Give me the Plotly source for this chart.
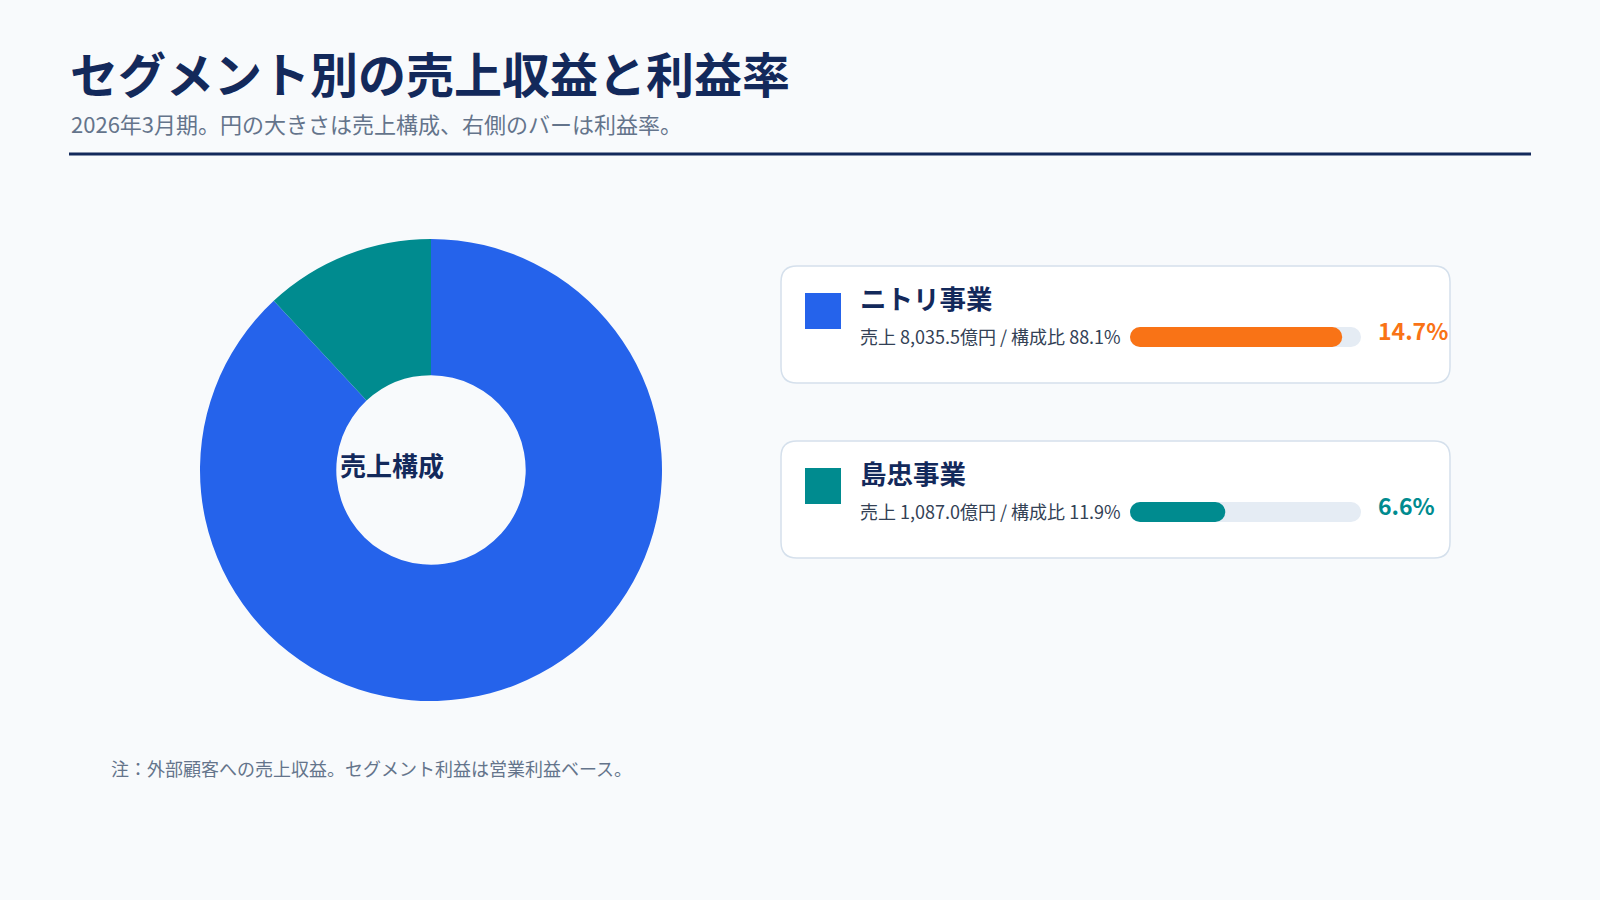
import plotly.graph_objects as go

# data
segments = ["ニトリ事業", "島忠事業"]
sales = [8035.5, 1087.0]          # 億円
shares = [88.1, 11.9]             # 構成比 %
margins = [14.7, 6.6]             # 利益率 %
margin_max = 16

seg_colors = ["#2563eb", "#008b8f"]
bar_colors = ["#f97316", "#008b8f"]

W, H = 1600, 900
FONT = "Noto Sans CJK JP, Noto Sans, sans-serif"
NAVY = "#13295b"


def px(x):
    return x / W


def py(y):
    return 1 - y / H


def rounded_rect(x0, y0, x1, y1, r):
    # path in paper coords built from pixel corners
    pts = [
        f"M {px(x0 + r)} {py(y0)}",
        f"L {px(x1 - r)} {py(y0)}",
        f"Q {px(x1)} {py(y0)} {px(x1)} {py(y0 + r)}",
        f"L {px(x1)} {py(y1 - r)}",
        f"Q {px(x1)} {py(y1)} {px(x1 - r)} {py(y1)}",
        f"L {px(x0 + r)} {py(y1)}",
        f"Q {px(x0)} {py(y1)} {px(x0)} {py(y1 - r)}",
        f"L {px(x0)} {py(y0 + r)}",
        f"Q {px(x0)} {py(y0)} {px(x0 + r)} {py(y0)}",
        "Z",
    ]
    return " ".join(pts)


def pill(fig, value, color, xa, ya, name):
    # explicit base -> plotly rounds both ends
    fig.add_trace(go.Bar(x=[value], y=[0], base=[0], orientation="h", xaxis=xa, yaxis=ya,
                         width=1, marker=dict(color=color, cornerradius=10, line=dict(width=0)),
                         showlegend=False, name=name, hoverinfo="skip"))


fig = go.Figure()

# donut
fig.add_trace(go.Pie(
    labels=segments, values=sales, hole=0.41, sort=False, direction="clockwise",
    marker=dict(colors=seg_colors, line=dict(width=0)),
    textinfo="none", showlegend=False,
    domain=dict(x=[px(200), px(662)], y=[py(701), py(239)]),
))

shapes = []
annotations = []

# header
annotations.append(dict(x=px(68), y=py(72), xref="paper", yref="paper", xanchor="left", yanchor="middle",
                        text="<b>セグメント別の売上収益と利益率</b>", showarrow=False,
                        font=dict(size=48, color=NAVY, family=FONT)))
annotations.append(dict(x=px(69), y=py(123), xref="paper", yref="paper", xanchor="left", yanchor="middle",
                        text="2026年3月期。円の大きさは売上構成、右側のバーは利益率。", showarrow=False,
                        font=dict(size=22, color="#64748b", family=FONT)))
shapes.append(dict(type="line", xref="paper", yref="paper", x0=px(69), x1=px(1531), y0=py(154), y1=py(154),
                   line=dict(color=NAVY, width=3)))

annotations.append(dict(x=px(392), y=py(464), xref="paper", yref="paper", xanchor="center", yanchor="middle",
                        text="<b>売上構成</b>", showarrow=False, font=dict(size=26, color=NAVY, family=FONT)))
annotations.append(dict(x=px(109), y=py(768), xref="paper", yref="paper", xanchor="left", yanchor="middle",
                        text="注：外部顧客への売上収益。セグメント利益は営業利益ベース。", showarrow=False,
                        font=dict(size=18, color="#64748b", family=FONT)))

card_tops = [266, 441]
layout_axes = {}
for i, seg in enumerate(segments):
    top = card_tops[i]
    shapes.append(dict(type="path", xref="paper", yref="paper", path=rounded_rect(781, top, 1450, top + 117, 16),
                       fillcolor="white", line=dict(color="#d5e0ec", width=1.5), layer="below"))
    shapes.append(dict(type="rect", xref="paper", yref="paper", x0=px(805), x1=px(841),
                       y0=py(top + 27), y1=py(top + 63), fillcolor=seg_colors[i], line=dict(width=0)))
    annotations.append(dict(x=px(858), y=py(top + 31), xref="paper", yref="paper", xanchor="left",
                            yanchor="middle", text=f"<b>{seg}</b>", showarrow=False,
                            font=dict(size=26.5, color=NAVY, family=FONT)))
    annotations.append(dict(x=px(858), y=py(top + 70), xref="paper", yref="paper", xanchor="left",
                            yanchor="middle", text=f"売上 {sales[i]:,.1f}億円 / 構成比 {shares[i]:.1f}%",
                            showarrow=False, font=dict(size=18, color="#334155", family=FONT)))
    annotations.append(dict(x=px(1376), y=py(top + 64), xref="paper", yref="paper", xanchor="left",
                            yanchor="middle", text=f"<b>{margins[i]:.1f}%</b>", showarrow=False,
                            font=dict(size=23, color=bar_colors[i], family=FONT)))

    xa = "x" if i == 0 else f"x{i + 1}"
    ya = "y" if i == 0 else f"y{i + 1}"
    pill(fig, margin_max, "#e5ecf4", xa, ya, "track")
    pill(fig, margins[i], bar_colors[i], xa, ya, seg)
    cy = top + 71
    key = "" if i == 0 else str(i + 1)
    layout_axes[f"xaxis{key}"] = dict(domain=[px(1130), px(1361)], range=[0, margin_max], visible=False,
                                      fixedrange=True, anchor=ya)
    layout_axes[f"yaxis{key}"] = dict(domain=[py(cy + 10), py(cy - 10)], range=[-0.5, 0.5], visible=False,
                                      fixedrange=True, anchor=xa)

fig.update_layout(
    width=W, height=H,
    margin=dict(l=0, r=0, t=0, b=0),
    paper_bgcolor="#f8fafc", plot_bgcolor="rgba(0,0,0,0)",
    barmode="overlay",
    shapes=shapes, annotations=annotations,
    font=dict(family=FONT),
    **layout_axes,
)

fig.write_html("out.html", config={"displayModeBar": False},
               post_script="document.body.style.margin='0';")
